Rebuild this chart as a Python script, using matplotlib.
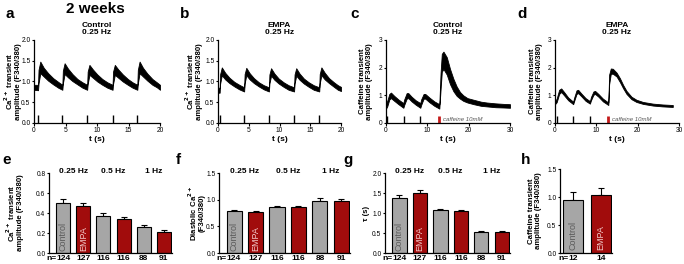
import matplotlib
matplotlib.use('Agg')
import matplotlib.pyplot as plt
import matplotlib.transforms as mtransforms

plt.rcParams['font.family'] = ['Liberation Sans', 'DejaVu Sans']
plt.rcParams['axes.linewidth'] = 0.9

GRAY = '#a6a6a6'
RED = '#a10c0c'

# ---- traces (a-d): time, lower and upper edge of the recorded band ----
a_t = [0.0, 0.64, 0.72, 1.0, 1.55, 2.25, 3.05, 3.85, 4.5,
       4.58, 4.86, 5.4, 6.1, 6.9, 7.7, 8.44,
       8.52, 8.8, 9.35, 10.05, 10.85, 11.65, 12.47,
       12.55, 12.83, 13.38, 14.1, 14.9, 15.65, 16.4,
       16.48, 16.76, 17.3, 18.0, 18.8, 19.5, 20.0]
a_lo = [0.80, 0.79, 0.95, 1.20, 1.12, 1.02, 0.93, 0.85, 0.80,
        0.95, 1.18, 1.10, 1.01, 0.93, 0.85, 0.80,
        0.94, 1.16, 1.09, 1.00, 0.92, 0.85, 0.80,
        0.94, 1.16, 1.09, 1.00, 0.92, 0.85, 0.80,
        0.95, 1.20, 1.12, 1.02, 0.92, 0.86, 0.80]
a_hi = [0.92, 0.92, 1.28, 1.48, 1.33, 1.20, 1.08, 0.99, 0.92,
        1.26, 1.44, 1.31, 1.18, 1.06, 0.98, 0.92,
        1.24, 1.40, 1.29, 1.17, 1.06, 0.98, 0.92,
        1.24, 1.40, 1.29, 1.17, 1.06, 0.98, 0.92,
        1.28, 1.48, 1.33, 1.19, 1.06, 0.98, 0.92]
a_stim = [0.64, 4.5, 8.44, 12.47, 16.4]

b_t = [0.0, 0.27, 0.35, 0.62, 1.17, 1.87, 2.67, 3.47, 4.25,
       4.33, 4.6, 5.15, 5.85, 6.65, 7.45, 8.28,
       8.36, 8.63, 9.18, 9.88, 10.68, 11.48, 12.37,
       12.45, 12.72, 13.27, 13.97, 14.77, 15.57, 16.46,
       16.54, 16.81, 17.36, 18.06, 18.86, 19.5, 20.0]
b_lo = [0.73, 0.73, 0.95, 1.15, 1.05, 0.96, 0.88, 0.81, 0.76,
        0.95, 1.15, 1.05, 0.96, 0.88, 0.81, 0.76,
        0.95, 1.14, 1.04, 0.95, 0.87, 0.80, 0.76,
        0.95, 1.14, 1.04, 0.95, 0.87, 0.80, 0.76,
        0.95, 1.15, 1.05, 0.96, 0.87, 0.80, 0.77]
b_hi = [0.85, 0.85, 1.18, 1.34, 1.21, 1.09, 0.99, 0.92, 0.86,
        1.18, 1.33, 1.20, 1.08, 0.98, 0.91, 0.86,
        1.17, 1.32, 1.19, 1.07, 0.98, 0.91, 0.86,
        1.17, 1.32, 1.19, 1.07, 0.98, 0.91, 0.86,
        1.18, 1.34, 1.21, 1.08, 0.98, 0.91, 0.87]
b_stim = [0.27, 4.25, 8.28, 12.37, 16.46]

c_t = [0.0, 0.3, 0.8, 1.2, 2.0, 3.0, 4.2,
       4.4, 5.0, 5.4, 6.2, 7.2, 8.3,
       8.5, 9.1, 9.5, 10.5, 11.7, 12.9,
       13.2, 13.5, 13.9, 14.7, 15.5, 16.3, 17.1, 17.9, 18.7,
       19.7, 21.2, 23.0, 24.4, 26.5, 28.5, 30.0]
c_lo = [0.52, 0.60, 0.85, 0.90, 0.80, 0.68, 0.55,
        0.65, 0.88, 0.90, 0.78, 0.66, 0.55,
        0.65, 0.88, 0.88, 0.75, 0.62, 0.52,
        1.20, 1.85, 1.95, 1.75, 1.40, 1.15, 0.98, 0.88, 0.80,
        0.74, 0.68, 0.62, 0.60, 0.57, 0.56, 0.55]
c_hi = [0.72, 0.80, 1.05, 1.10, 0.98, 0.85, 0.72,
        0.85, 1.08, 1.08, 0.95, 0.82, 0.72,
        0.85, 1.05, 1.05, 0.92, 0.78, 0.68,
        1.80, 2.50, 2.58, 2.38, 1.95, 1.60, 1.32, 1.12, 1.00,
        0.90, 0.84, 0.77, 0.74, 0.71, 0.69, 0.68]
c_stim = [0.24, 4.26, 8.3]
c_caff = 12.9

d_t = [0.0, 0.4, 1.0, 1.5, 2.2, 3.2, 4.4,
       4.6, 5.2, 5.6, 6.4, 7.4, 8.45,
       8.7, 9.3, 9.7, 10.5, 11.6, 12.9,
       13.1, 13.5, 14.0, 14.9, 15.7, 16.5, 17.3, 18.5,
       19.7, 21.3, 23.7, 26.0, 28.5]
d_lo = [0.68, 0.75, 1.05, 1.12, 1.00, 0.82, 0.68,
        0.78, 1.05, 1.08, 0.96, 0.80, 0.70,
        0.82, 1.02, 1.05, 0.95, 0.78, 0.65,
        1.40, 1.78, 1.78, 1.68, 1.48, 1.25, 1.05, 0.86,
        0.76, 0.69, 0.63, 0.60, 0.58]
d_hi = [0.78, 0.88, 1.20, 1.25, 1.12, 0.92, 0.77,
        0.90, 1.18, 1.20, 1.06, 0.90, 0.79,
        0.94, 1.14, 1.16, 1.05, 0.88, 0.74,
        1.75, 1.97, 1.96, 1.82, 1.62, 1.37, 1.16, 0.95,
        0.84, 0.76, 0.70, 0.67, 0.65]
d_stim = [0.4, 4.4, 8.45]
d_caff = 12.9

# ---- bar data (e-h) ----
freq_labels = ['0.25 Hz', '0.5 Hz', '1 Hz']
n_labels = ['124', '127', '116', '116', '88', '91']
bar_colors = [GRAY, RED, GRAY, RED, GRAY, RED]

e_mean = [0.50, 0.47, 0.37, 0.34, 0.26, 0.21]
e_err = [0.04, 0.03, 0.03, 0.025, 0.022, 0.02]
f_mean = [0.78, 0.77, 0.86, 0.86, 0.98, 0.97]
f_err = [0.02, 0.02, 0.02, 0.03, 0.05, 0.04]
g_mean = [1.38, 1.50, 1.08, 1.04, 0.53, 0.52]
g_err = [0.07, 0.07, 0.03, 0.03, 0.02, 0.02]
h_mean = [0.94, 1.04]
h_err = [0.15, 0.12]
h_labels = ['12', '14']

fig = plt.figure(figsize=(6.84, 2.64), dpi=100)

def px(x0, y0, x1, y1):
    # pixel box (left, top, right, bottom) -> figure fraction rect
    return [x0 / 684, 1 - y1 / 264, (x1 - x0) / 684, (y1 - y0) / 264]

def style(ax):
    for s in ['top', 'right']:
        ax.spines[s].set_visible(False)
    ax.tick_params(labelsize=4.8, length=1.8, width=0.8, pad=0.8)

def put_ylabel(ax, text, rect, center_px, size=5.6):
    ax.set_ylabel(text, fontsize=size, fontweight='bold', linespacing=0.95)
    ax.yaxis.label.set_va('center')
    ax.yaxis.set_label_coords(center_px / (rect[2] * 684), 0.5)

def trace_panel(rect, t, lo, hi, stim, xmax, ymax, yticks, ylabel, lab_px, title, caff=None):
    ax = fig.add_axes(rect)
    style(ax)
    ax.fill_between(t, lo, hi, color='black', lw=0.6, edgecolor='black')
    ax.vlines(stim, 0, 0.2 if ymax < 2.5 else 0.25, color='black', lw=1.0)
    if caff is not None:
        ax.vlines([caff], 0, 0.25, color='#c41a1a', lw=2.0)
        ax.text(caff + 1.0, 0.13, 'caffeine 10mM', fontsize=4.3, style='italic',
                color='#555555', va='center')
    ax.set_xlim(0, xmax)
    ax.set_ylim(0, ymax)
    ax.set_yticks(yticks)
    ax.set_xticks(range(0, xmax + 1, 5 if xmax == 20 else 10))
    ax.set_xlabel('t (s)', fontsize=6, fontweight='bold', labelpad=1.5)
    put_ylabel(ax, ylabel, rect, lab_px)
    ax.set_title(title, fontsize=6, fontweight='bold', pad=4, linespacing=1.05)
    return ax

def bar_panel(rect, mean, err, labels, ymax, yticks, ylabel, lab_px, freqs=True,
              lab_size=5.6, n_x=-0.33):
    ax = fig.add_axes(rect)
    style(ax)
    x = list(range(len(mean)))
    ax.bar(x, mean, width=0.7, color=bar_colors[:len(mean)], edgecolor='black', lw=0.8, zorder=2)
    ax.errorbar(x, mean, yerr=[[0] * len(mean), err], fmt='none', ecolor='black',
                elinewidth=0.8, capsize=2.5, capthick=0.8, zorder=1)
    ax.set_xlim(-0.7, len(mean) - 0.6)
    ax.set_ylim(0, ymax)
    ax.set_yticks(yticks)
    ax.set_xticks(x)
    ax.set_xticklabels(labels, fontsize=6, fontweight='bold')
    ax.tick_params(axis='x', length=0, pad=1.5)
    put_ylabel(ax, ylabel, rect, lab_px, size=lab_size)
    tr = mtransforms.blended_transform_factory(ax.transData, ax.transAxes)
    # "n=" in front of the first count
    ax.text(n_x, -0.019, 'n=', ha='right', va='top', fontsize=6, fontweight='bold', transform=tr)
    ax.text(0, 0.03, 'Control', rotation=90, ha='center', va='bottom', fontsize=6.5,
            color='#5a5a5a', transform=tr)
    ax.text(1, 0.03, 'EMPA', rotation=90, ha='center', va='bottom', fontsize=6.5,
            color='#f2caca', transform=tr)
    if freqs:
        for i, lab in enumerate(freq_labels):
            ax.text(2 * i + 0.5, 1.02, lab, ha='center', va='center', fontsize=6,
                    fontweight='bold', transform=tr)
    return ax

ca_lab = 'Ca$^{\\mathbf{2+}}$ transient\namplitude (F340/380)'
caf_lab = 'Caffeine transient\namplitude (F340/380)'

trace_panel(px(34, 40, 160, 123), a_t, a_lo, a_hi, a_stim, 20, 2.0,
            [0.0, 0.5, 1.0, 1.5, 2.0], ca_lab, -22, 'Control\n0.25 Hz')
trace_panel(px(218, 40, 341, 123), b_t, b_lo, b_hi, b_stim, 20, 2.0,
            [0.0, 0.5, 1.0, 1.5, 2.0], ca_lab, -25, 'EMPA\n0.25 Hz')
trace_panel(px(386, 40, 510, 123), c_t, c_lo, c_hi, c_stim, 30, 3,
            [0, 1, 2, 3], caf_lab, -20, 'Control\n0.25 Hz', caff=c_caff)
trace_panel(px(555, 40, 679, 123), d_t, d_lo, d_hi, d_stim, 30, 3,
            [0, 1, 2, 3], caf_lab, -19, 'EMPA\n0.25 Hz', caff=d_caff)

bar_panel(px(49, 173, 172, 253), e_mean, e_err, n_labels, 0.8,
          [0.0, 0.2, 0.4, 0.6, 0.8], ca_lab, -35)
bar_panel(px(219, 173, 350, 253), f_mean, f_err, n_labels, 1.5,
          [0.0, 0.5, 1.0, 1.5], 'Diastolic Ca$^{\\mathbf{2+}}$\n(F340/380)', -23)
bar_panel(px(385, 173, 510, 253), g_mean, g_err, n_labels, 2.0,
          [0.0, 0.5, 1.0, 1.5, 2.0], 'τ (s)', -18, lab_size=5.5)
axh = bar_panel(px(560, 169, 612, 253), h_mean, h_err, h_labels, 1.5,
                [0.0, 0.5, 1.0, 1.5], caf_lab, -25, freqs=False, n_x=-0.15)
axh.set_xlim(-0.45, 1.38)

fig.text(95 / 684, 1 - 9 / 264, '2 weeks', fontsize=11, fontweight='bold', ha='center', va='center')
for lab, xp, yp in [('a', 10, 14), ('b', 185, 14), ('c', 355, 14), ('d', 522, 14),
                    ('e', 7, 160), ('f', 178, 160), ('g', 348, 160), ('h', 526, 160)]:
    fig.text(xp / 684, 1 - yp / 264, lab, fontsize=11, fontweight='bold', ha='center', va='center')

plt.savefig('out.png', dpi=100)
